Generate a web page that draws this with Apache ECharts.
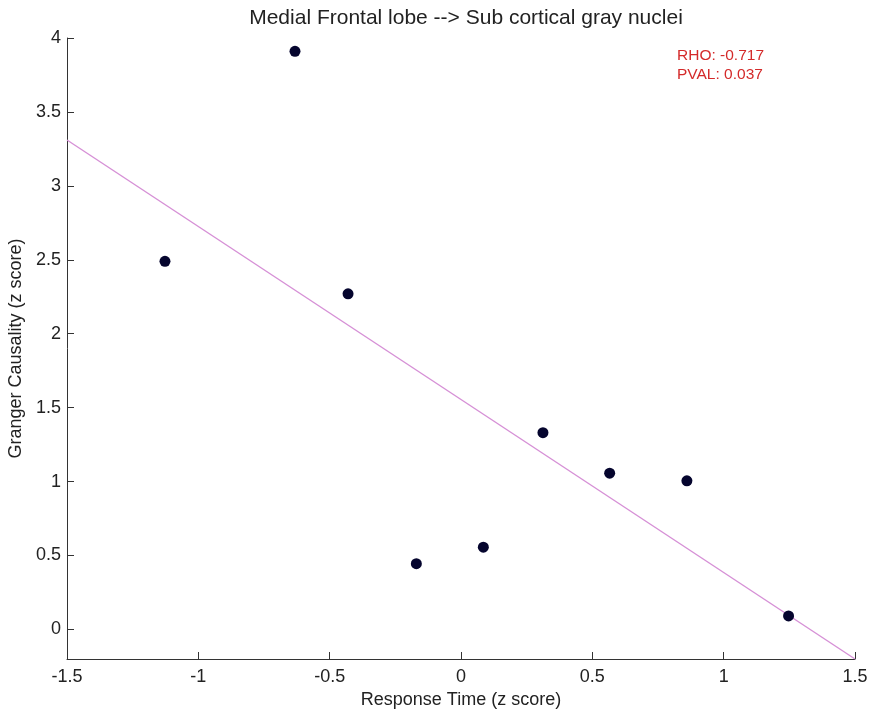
<!DOCTYPE html>
<html>
<head>
<meta charset="utf-8">
<script src="https://cdn.jsdelivr.net/npm/echarts@6/dist/echarts.min.js"></script>
<style>
  html, body { margin: 0; padding: 0; background: #fff; }
  #chart { width: 869px; height: 710px; }
</style>
</head>
<body>
<div id="chart"></div>
<script>
// response time (z score) and granger causality (z score) per subject
const responseTime = [-1.127, -0.632, -0.430, -0.170, 0.085, 0.312, 0.566, 0.860, 1.247]
const granger = [2.49, 3.91, 2.27, 0.445, 0.556, 1.331, 1.057, 1.005, 0.091]

// least-squares fit line, as drawn
const fitX = [-1.5, 1.5]
const fitY = [3.31, -0.2]

const yTicks = [0, 0.5, 1, 1.5, 2, 2.5, 3, 3.5, 4]
const statsText = ['RHO: -0.717', 'PVAL: 0.037']

const textColor = '#222'
const axisColor = '#333'
const fontFamily = 'Arial, Liberation Sans, sans-serif'

const chart = echarts.init(document.getElementById('chart'))

const axisCommon = {
  axisLine: { show: true, onZero: false, lineStyle: { color: axisColor, width: 1 } },
  axisTick: { show: true, inside: true, length: 7, lineStyle: { color: axisColor } },
  axisLabel: { color: textColor, fontSize: 18, fontFamily },
  splitLine: { show: false },
  nameTextStyle: { color: textColor, fontSize: 18, fontFamily }
}

chart.setOption({
  animation: false,
  backgroundColor: '#fff',
  title: {
    text: 'Medial Frontal lobe --> Sub cortical gray nuclei',
    left: 461,
    top: 3,
    textAlign: 'center',
    textStyle: { color: textColor, fontSize: 21, fontWeight: 'normal', fontFamily }
  },
  graphic: [{
    type: 'text',
    left: 677,
    top: 46,
    style: {
      text: statsText.join('\n'),
      fill: '#d42a2a',
      font: '15.5px ' + fontFamily,
      lineHeight: 19
    }
  }],
  grid: { left: 67, right: 14, top: 38, bottom: 51, outerBoundsMode: 'none', containLabel: false },
  xAxis: {
    ...axisCommon,
    type: 'value',
    min: -1.5,
    max: 1.5,
    interval: 0.5,
    name: 'Response Time (z score)',
    nameLocation: 'middle',
    nameGap: 30,
    axisLabel: { ...axisCommon.axisLabel, margin: 9 }
  },
  yAxis: {
    ...axisCommon,
    type: 'value',
    min: -0.2,
    max: 4,
    name: 'Granger Causality (z score)',
    nameLocation: 'middle',
    nameGap: 39,
    axisLabel: { ...axisCommon.axisLabel, margin: 6, customValues: yTicks },
    axisTick: { ...axisCommon.axisTick, customValues: yTicks }
  },
  series: [
    {
      type: 'line',
      data: fitX.map((x, i) => [x, fitY[i]]),
      symbol: 'none',
      lineStyle: { color: '#d690d6', width: 1.4 },
      clip: true,
      z: 1
    },
    {
      type: 'scatter',
      data: responseTime.map((x, i) => [x, granger[i]]),
      symbolSize: 11,
      itemStyle: { color: '#05052e', opacity: 1 },
      z: 2
    }
  ]
})
</script>
</body>
</html>
